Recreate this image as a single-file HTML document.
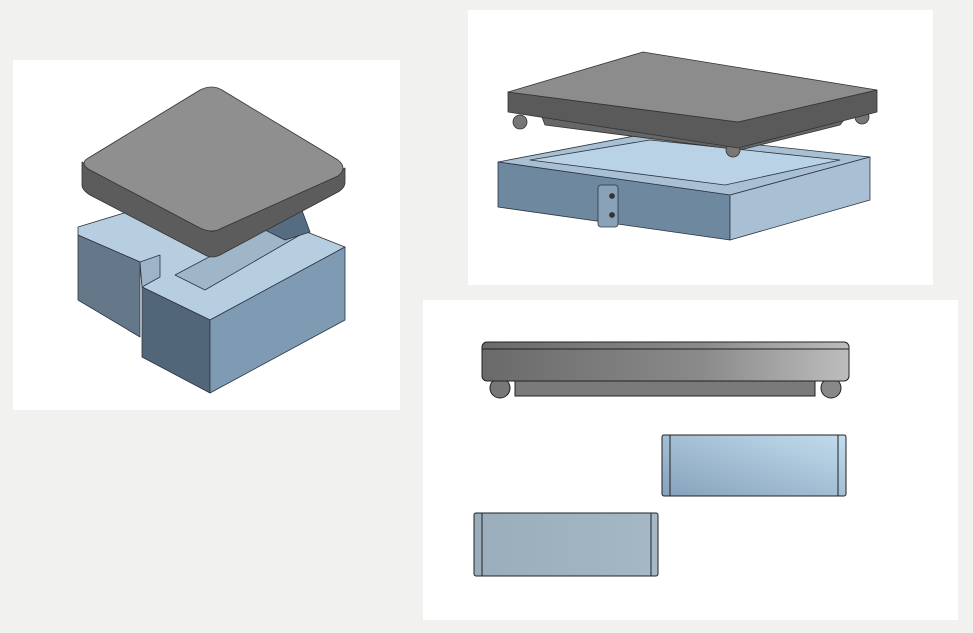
<!DOCTYPE html>
<html><head><style>
html,body{margin:0;padding:0;background:#f1f1ef;}
svg{display:block}
</style></head><body>
<svg width="973" height="633" viewBox="0 0 973 633" xmlns="http://www.w3.org/2000/svg">
<defs>
<linearGradient id="lidside" x1="0" x2="1" y1="0" y2="0"><stop offset="0" stop-color="#6a6a6a"/><stop offset="0.6" stop-color="#8a8a8a"/><stop offset="1" stop-color="#bdbdbd"/></linearGradient>
<linearGradient id="b1" x1="0" x2="1" y1="1" y2="0"><stop offset="0" stop-color="#85a2bb"/><stop offset="1" stop-color="#c3dcee"/></linearGradient>
<linearGradient id="b2" x1="0" x2="1"><stop offset="0" stop-color="#9aadbb"/><stop offset="1" stop-color="#a4b8c6"/></linearGradient>
</defs>
<rect width="973" height="633" fill="#f1f1ef"/>
<rect x="13" y="60" width="387" height="350" fill="#fff"/>
<rect x="468" y="10" width="465" height="275" fill="#fff"/>
<rect x="423" y="300" width="535" height="320" fill="#fff"/>

<!-- left box -->
<g stroke="#2b3440" stroke-width="0.8" stroke-linejoin="round">
<polygon points="78,227 200,190 345,247 210,320 142,287 140,262 78,235" fill="#b7cde0"/>
<polygon points="78,235 140,262 140,337 78,300" fill="#65788a"/>
<polygon points="140,262 160,255 160,277 142,287" fill="#9db4c8"/>
<polygon points="142,287 210,320 210,393 142,357" fill="#52667a"/>
<polygon points="210,320 345,247 345,320 210,393" fill="#7f9bb4"/>
<polygon points="175,275 275,222 300,235 205,290" fill="#9fb6c9"/>
<polygon points="255,225 300,205 310,232 285,240" fill="#566c80"/>
</g>
<!-- left lid -->
<g stroke="#333" stroke-width="0.8" stroke-linejoin="round">
<path d="M82,162 L82,185 Q82,190 90,195 L205,255 Q212,259 220,255 L338,192 Q345,188 345,182 L345,168 L212,232 Z" fill="#5c5c5c"/>
<path d="M90,157 L200,90 Q212,84 222,90 L338,160 Q348,168 338,176 L222,228 Q212,234 200,228 L90,170 Q78,163 90,157 Z" fill="#8f8f8f"/>
</g>

<!-- top right box -->
<g stroke="#2b3440" stroke-width="0.8" stroke-linejoin="round">
<polygon points="498,162 650,133 870,157 730,195" fill="#a9c0d4"/>
<polygon points="530,160 650,140 840,160 725,185" fill="#bad2e6"/>
<polygon points="498,162 730,195 730,240 498,207" fill="#6e889f"/>
<polygon points="730,195 870,157 870,200 730,240" fill="#a9c0d4"/>
<rect x="598" y="185" width="20" height="42" rx="3" fill="#8aa2b8"/>
<circle cx="612" cy="196" r="2.5" fill="#333"/><circle cx="612" cy="215" r="2.5" fill="#333"/>
</g>
<!-- top right lid -->
<g stroke="#333" stroke-width="0.8" stroke-linejoin="round">
<polygon points="540,112 850,112 840,125 740,150 545,125" fill="#666"/>
<circle cx="520" cy="122" r="7" fill="#777"/><circle cx="862" cy="117" r="7" fill="#777"/><circle cx="733" cy="150" r="7" fill="#777"/>
<polygon points="508,92 738,122 877,90 877,112 738,148 508,112" fill="#5a5a5a"/>
<polygon points="508,92 643,52 877,90 738,122" fill="#8c8c8c"/>
</g>

<!-- bottom right side views -->
<g stroke="#222" stroke-width="1">
<circle cx="500" cy="388" r="10" fill="#777"/><circle cx="831" cy="388" r="10" fill="#888"/>
<rect x="515" y="381" width="300" height="15" fill="#7a7a7a"/>
<rect x="482" y="342" width="367" height="39" rx="5" fill="url(#lidside)"/>
<line x1="482" y1="349" x2="849" y2="349"/>
<rect x="662" y="435" width="184" height="61" rx="2" fill="url(#b1)"/>
<line x1="670" y1="435" x2="670" y2="496"/><line x1="838" y1="435" x2="838" y2="496"/>
<rect x="474" y="513" width="184" height="63" rx="2" fill="url(#b2)"/>
<line x1="482" y1="513" x2="482" y2="576"/><line x1="651" y1="513" x2="651" y2="576"/>
</g>
</svg>
</body></html>
